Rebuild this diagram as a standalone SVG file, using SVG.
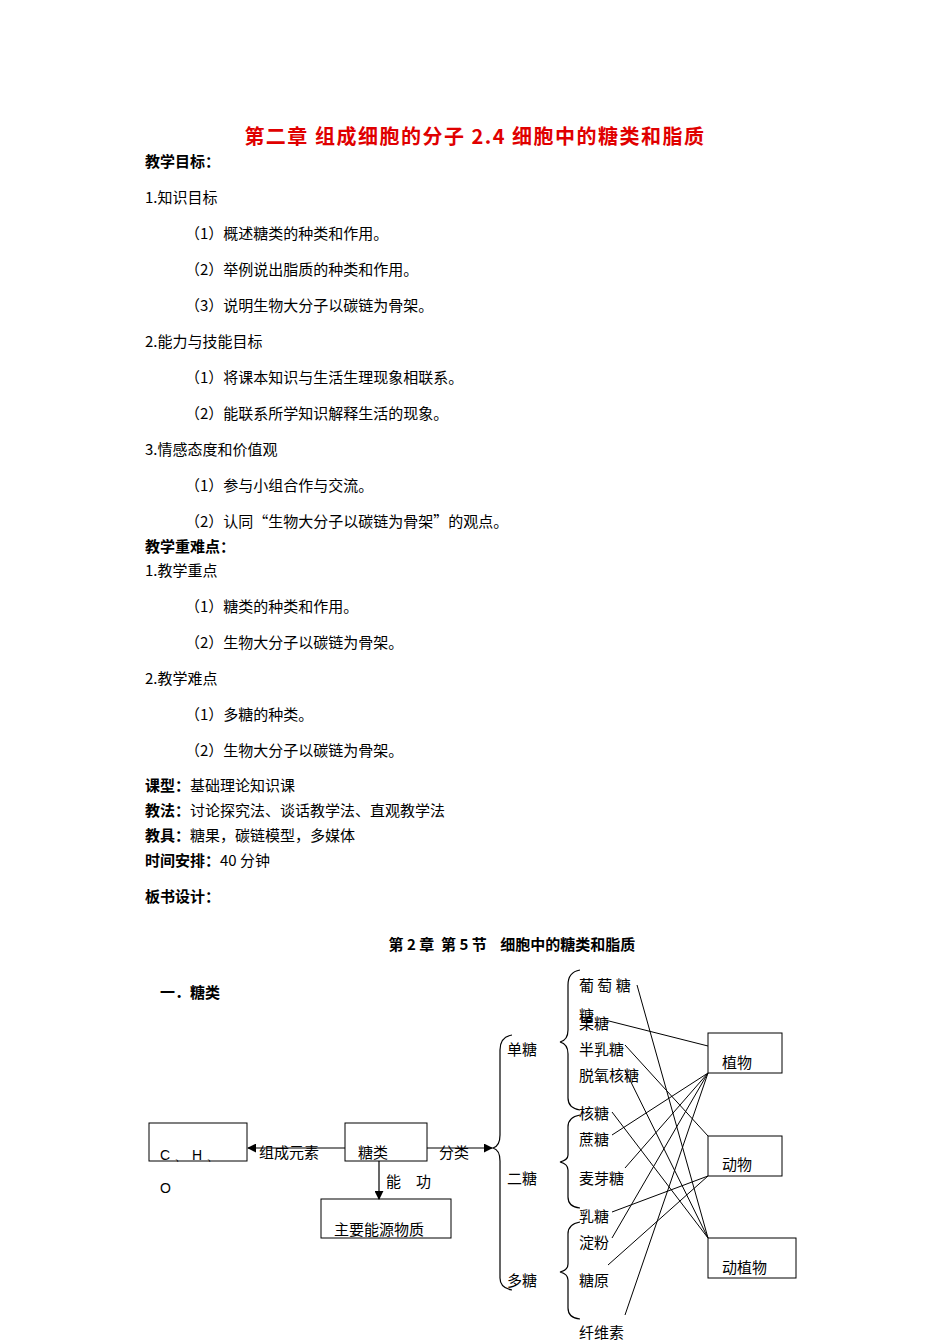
<svg xmlns="http://www.w3.org/2000/svg" width="950" height="1344" viewBox="0 0 950 1344">
<style>
text{font-family:"Noto Sans CJK SC","Liberation Sans",sans-serif;font-size:15px;fill:#000}
.b{font-weight:bold}
.t{font-size:20px;font-weight:bold;fill:#e00000;letter-spacing:1.5px}
.box{fill:none;stroke:#000;stroke-width:1}
.ln{stroke:#000;stroke-width:1.2;fill:none}
.l{font-family:"Liberation Sans",sans-serif;font-size:14px}
</style>
<defs><marker id="ah" viewBox="0 0 10 10" refX="9" refY="5" markerWidth="9" markerHeight="9" markerUnits="userSpaceOnUse" orient="auto"><path d="M0,0L10,5L0,10z" fill="#000"/></marker></defs>
<g id="header">
<text class="t" x="475" y="144" text-anchor="middle">第二章 组成细胞的分子 2.4 细胞中的糖类和脂质</text>
<text class="b" x="145" y="167">教学目标：</text>
<text x="145" y="203">1.知识目标</text>
<text x="185" y="239">（1）概述糖类的种类和作用。</text>
<text x="185" y="275">（2）举例说出脂质的种类和作用。</text>
<text x="185" y="311">（3）说明生物大分子以碳链为骨架。</text>
<text x="145" y="347">2.能力与技能目标</text>
<text x="185" y="383">（1）将课本知识与生活生理现象相联系。</text>
<text x="185" y="419">（2）能联系所学知识解释生活的现象。</text>
<text x="145" y="455">3.情感态度和价值观</text>
<text x="185" y="491">（1）参与小组合作与交流。</text>
<text x="185" y="527">（2）认同“生物大分子以碳链为骨架”的观点。</text>
<text class="b" x="145" y="552">教学重难点：</text>
<text x="145" y="576">1.教学重点</text>
<text x="185" y="612">（1）糖类的种类和作用。</text>
<text x="185" y="648">（2）生物大分子以碳链为骨架。</text>
<text x="145" y="684">2.教学难点</text>
<text x="185" y="720">（1）多糖的种类。</text>
<text x="185" y="756">（2）生物大分子以碳链为骨架。</text>
<text x="145" y="791"><tspan class="b">课型：</tspan>基础理论知识课</text>
<text x="145" y="816"><tspan class="b">教法：</tspan>讨论探究法、谈话教学法、直观教学法</text>
<text x="145" y="841"><tspan class="b">教具：</tspan>糖果，碳链模型，多媒体</text>
<text x="145" y="866"><tspan class="b">时间安排：</tspan>40 分钟</text>
<text class="b" x="145" y="902">板书设计：</text>
<text class="b" x="512" y="950" text-anchor="middle" xml:space="preserve">第 2 章  第 5 节    细胞中的糖类和脂质</text>
<text class="b" x="160" y="998">一．糖类</text>
</g>
<g id="connectors">
<line class="ln" x1="345" y1="1148" x2="248" y2="1148" marker-end="url(#ah)"/>
<line class="ln" x1="427" y1="1148" x2="492" y2="1148" marker-end="url(#ah)"/>
<line class="ln" x1="379" y1="1161" x2="379" y2="1199" marker-end="url(#ah)"/>
<path class="ln" d="M512,1035 Q500,1037 500,1050 L500,1135 Q500,1146 493,1148 Q500,1150 500,1161 L500,1278 Q500,1288 512,1290"/>
<path class="ln" d="M580,970 Q568,972 568,985 L568,1030 Q568,1040 560,1042 Q568,1044 568,1054 L568,1098 Q568,1108 580,1110"/>
<path class="ln" d="M580,1115 Q568,1117 568,1127 L568,1155 Q568,1160 560,1162 Q568,1164 568,1170 L568,1197 Q568,1207 580,1208"/>
<path class="ln" d="M580,1222 Q568,1224 568,1234 L568,1264 Q568,1270 560,1272 Q568,1274 568,1280 L568,1308 Q568,1318 580,1319"/>
<g stroke="#000" stroke-width="1">
<line x1="637" y1="985" x2="708" y2="1238"/>
<line x1="605" y1="1020" x2="708" y2="1046"/>
<line x1="625" y1="1045" x2="708" y2="1136"/>
<line x1="625" y1="1070" x2="708" y2="1238"/>
<line x1="612" y1="1112" x2="708" y2="1238"/>
<line x1="612" y1="1135" x2="708" y2="1073"/>
<line x1="625" y1="1168" x2="708" y2="1073"/>
<line x1="612" y1="1212" x2="708" y2="1176"/>
<line x1="612" y1="1238" x2="708" y2="1073"/>
<line x1="608" y1="1265" x2="708" y2="1176"/>
<line x1="625" y1="1315" x2="708" y2="1073"/>
</g>
</g>
<g id="cho"><rect class="box" x="149" y="1123" width="98" height="38"/><text class="l" x="160" y="1160">C 、 H 、</text><text class="l" x="160" y="1193">O</text></g>
<g id="tanglei"><rect class="box" x="345" y="1123" width="82" height="38"/><text x="358" y="1158">糖类</text></g>
<text x="259" y="1158">组成元素</text>
<text x="439" y="1158">分类</text>
<text x="386" y="1187">能　功</text>
<g id="energy"><rect class="box" x="321" y="1199" width="130" height="39"/><text x="334" y="1235">主要能源物质</text></g>
<g id="labels">
<text x="507" y="1055">单糖</text>
<text x="507" y="1184">二糖</text>
<text x="507" y="1286">多糖</text>
<text x="579" y="991">葡 萄 糖</text>
<text x="579" y="1021">糖</text>
<text x="579" y="1029">果糖</text>
<text x="579" y="1055">半乳糖</text>
<text x="579" y="1081">脱氧核糖</text>
<text x="579" y="1119">核糖</text>
<text x="579" y="1145">蔗糖</text>
<text x="579" y="1184">麦芽糖</text>
<text x="579" y="1222">乳糖</text>
<text x="579" y="1248">淀粉</text>
<text x="579" y="1286">糖原</text>
<text x="579" y="1338">纤维素</text>
</g>
<g id="plant"><rect class="box" x="708" y="1033" width="74" height="40"/><text x="722" y="1068">植物</text></g>
<g id="animal"><rect class="box" x="708" y="1136" width="74" height="40"/><text x="722" y="1170">动物</text></g>
<g id="both"><rect class="box" x="708" y="1238" width="88" height="40"/><text x="722" y="1273">动植物</text></g>
</svg>
